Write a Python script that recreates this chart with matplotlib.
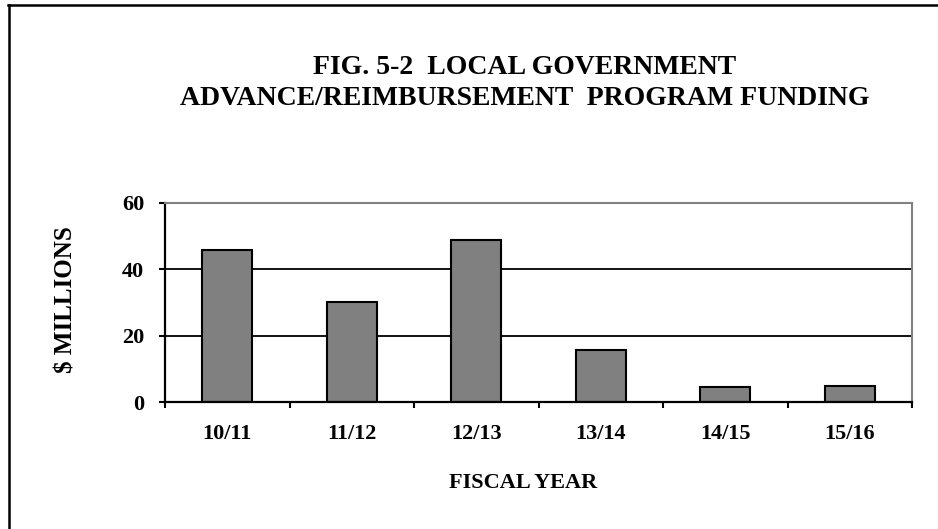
import matplotlib
matplotlib.use("Agg")
import matplotlib.pyplot as plt
from matplotlib.lines import Line2D

categories = ["10/11", "11/12", "12/13", "13/14", "14/15", "15/16"]
values = [45.8, 30.1, 48.8, 15.8, 4.4, 4.9]
yticks = [0, 20, 40, 60]

W, H = 938, 529
plt.rcParams['font.family'] = ['Liberation Serif', 'DejaVu Serif']
plt.rcParams['font.weight'] = 'bold'

fig = plt.figure(figsize=(W / 100, H / 100), dpi=100)
ax = fig.add_axes([165 / W, (H - 402) / H, (912 - 165) / W, 199 / H])

x = list(range(len(categories)))
ax.bar(x, values, width=0.4, color='#808080', edgecolor='black', linewidth=1.5, zorder=3)

ax.set_xlim(-0.5, len(categories) - 0.5)
ax.set_ylim(0, 60)
ax.set_yticks(yticks)
ax.set_yticklabels([str(t) for t in yticks], fontsize=16, fontweight='bold')
ax.set_xticks(x)
ax.set_xticklabels(categories, fontsize=16, fontweight='bold')
ax.set_xticks([i - 0.5 for i in range(len(categories) + 1)], minor=True)
ax.tick_params(axis='x', which='major', length=0, pad=16)
ax.tick_params(axis='x', which='minor', length=4, width=1.5, direction='out')
ax.tick_params(axis='y', which='major', length=4, width=1.5, direction='out', pad=11)

for g in [20, 40]:
    ax.axhline(g, color='black', linewidth=1.3, zorder=1)

for side in ['top', 'right']:
    ax.spines[side].set_color('#808080')
    ax.spines[side].set_linewidth(1.5)
for side in ['left', 'bottom']:
    ax.spines[side].set_color('black')
    ax.spines[side].set_linewidth(1.6)
ax.spines['bottom'].set_zorder(4)

fig.text(525 / W, 1 - 74 / H, "FIG. 5-2  LOCAL GOVERNMENT", ha='center', va='baseline',
         fontsize=20, fontweight='bold')
fig.text(525 / W, 1 - 105 / H, "ADVANCE/REIMBURSEMENT  PROGRAM FUNDING", ha='center', va='baseline',
         fontsize=20, fontweight='bold')
fig.text(523 / W, 1 - 488 / H, "FISCAL YEAR", ha='center', va='baseline',
         fontsize=16, fontweight='bold')
fig.text(66 / W, 1 - 300 / H, "$ MILLIONS", ha='center', va='center', rotation=90,
         fontsize=18, fontweight='bold')

fig.add_artist(Line2D([8 / W, 1.0], [1 - 4.5 / H, 1 - 4.5 / H], color='black', linewidth=1.8,
                      transform=fig.transFigure))
fig.add_artist(Line2D([8.5 / W, 8.5 / W], [0, 1 - 4.5 / H], color='black', linewidth=1.8,
                      transform=fig.transFigure))

fig.savefig("out.png", dpi=100)
